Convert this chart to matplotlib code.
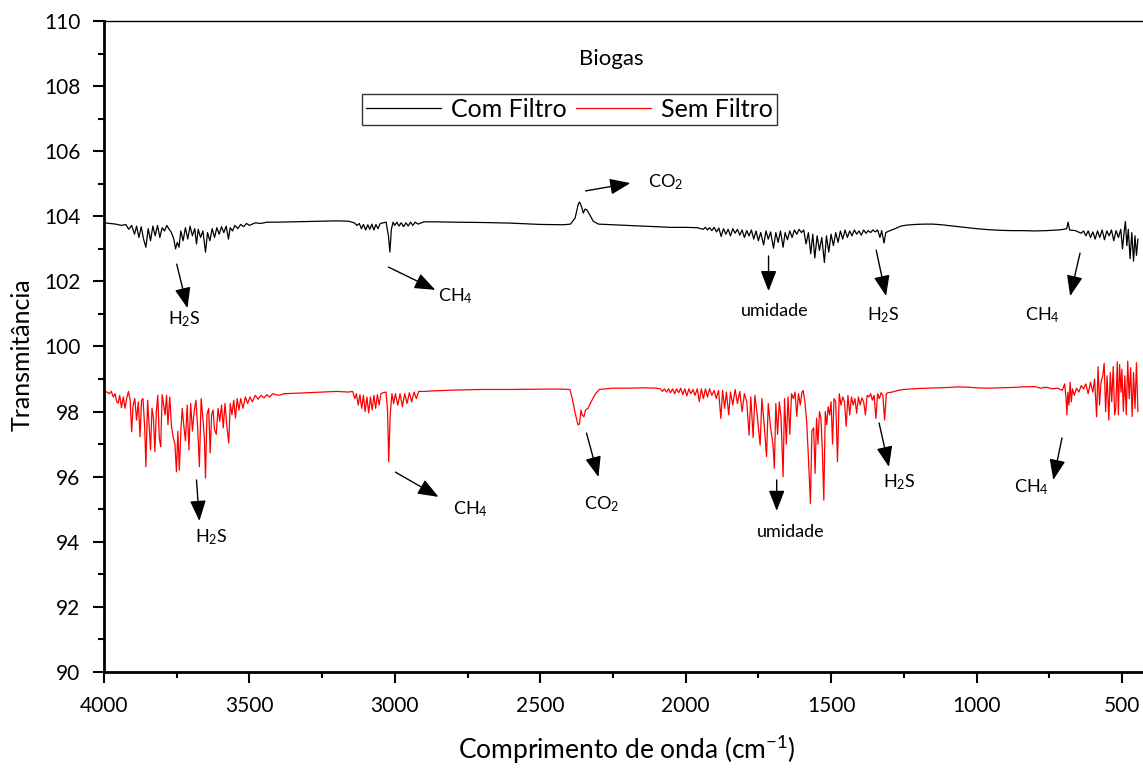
import matplotlib
matplotlib.use("Agg")
import matplotlib.pyplot as plt
from matplotlib import font_manager
from matplotlib.ticker import MultipleLocator

# ---- data (wavenumber cm-1, transmittance) ----
com_wn = [4000, 3980, 3960, 3940, 3925, 3915, 3905, 3895, 3888, 3880, 3872, 3864, 3856, 3848, 3840,
          3832, 3824, 3816, 3808, 3800, 3792, 3784, 3776, 3768, 3760, 3754, 3748, 3742, 3736, 3728,
          3720, 3712, 3704, 3696, 3688, 3682, 3676, 3668, 3660, 3651, 3644, 3636, 3628, 3620, 3612,
          3604, 3596, 3588, 3580, 3572, 3566, 3558, 3550, 3540, 3530, 3520, 3510, 3500, 3480, 3460,
          3440, 3400, 3350, 3300, 3250, 3200, 3160, 3140, 3130, 3122, 3115, 3108, 3100, 3093, 3086,
          3079, 3072, 3065, 3058, 3050, 3040, 3030, 3022, 3017, 3012, 3006, 3000, 2993, 2986, 2978,
          2970, 2962, 2954, 2946, 2938, 2930, 2920, 2900, 2860, 2800, 2700, 2600, 2500, 2420, 2396,
          2380, 2370, 2365, 2358, 2352, 2346, 2340, 2330, 2318, 2300, 2200, 2100, 2050, 2000, 1960,
          1940, 1932, 1925, 1918, 1910, 1902, 1894, 1886, 1878, 1870, 1862, 1854, 1846, 1838, 1830,
          1822, 1814, 1806, 1798, 1790, 1782, 1774, 1766, 1758, 1750, 1742, 1732, 1724, 1716, 1708,
          1698, 1690, 1682, 1674, 1665, 1658, 1650, 1642, 1634, 1626, 1618, 1610, 1602, 1594, 1586,
          1578, 1570, 1563, 1556, 1548, 1540, 1532, 1523, 1516, 1508, 1500, 1492, 1484, 1476, 1468,
          1460, 1452, 1444, 1436, 1428, 1420, 1412, 1404, 1396, 1388, 1380, 1372, 1364, 1356, 1348,
          1340, 1332, 1326, 1318, 1312, 1300, 1280, 1260, 1240, 1210, 1180, 1150, 1120, 1090, 1060,
          1030, 1000, 960, 920, 880, 840, 800, 760, 720, 700, 690, 685, 680, 660, 640,
          632, 624, 616, 608, 600, 592, 584, 576, 568, 560, 552, 544, 536, 528, 520,
          512, 504, 498, 492, 488, 483, 478, 472, 466, 460, 455, 450, 445]
com_t = [103.80, 103.78, 103.76, 103.72, 103.75, 103.60, 103.72, 103.45, 103.70, 103.35, 103.68, 103.30, 103.05, 103.62, 103.25,
         103.70, 103.40, 103.72, 103.35, 103.65, 103.55, 103.72, 103.60, 103.50, 103.30, 103.00, 103.20, 103.05, 103.55, 103.25,
         103.65, 103.30, 103.70, 103.40, 103.62, 103.15, 103.60, 103.35, 103.55, 102.90, 103.50, 103.25, 103.62, 103.35, 103.65,
         103.45, 103.68, 103.50, 103.70, 103.30, 103.65, 103.55, 103.72, 103.62, 103.75, 103.68, 103.78, 103.72, 103.80, 103.78,
         103.82, 103.82, 103.83, 103.84, 103.85, 103.86, 103.85, 103.80, 103.72, 103.78, 103.62, 103.75, 103.58, 103.74, 103.60,
         103.76, 103.58, 103.75, 103.62, 103.78, 103.80, 103.82, 103.40, 102.90, 103.60, 103.82, 103.72, 103.82, 103.70, 103.80,
         103.68, 103.80, 103.70, 103.82, 103.72, 103.82, 103.76, 103.83, 103.83, 103.82, 103.81, 103.79, 103.75, 103.74, 103.76,
         103.95, 104.35, 104.44, 104.30, 104.10, 104.22, 104.20, 104.05, 103.85, 103.76, 103.72, 103.68, 103.66, 103.66, 103.65,
         103.60, 103.66, 103.58, 103.65, 103.56, 103.66, 103.52, 103.64, 103.38, 103.62, 103.45, 103.60, 103.40, 103.62, 103.48,
         103.60, 103.42, 103.58, 103.35, 103.56, 103.40, 103.58, 103.30, 103.55, 103.25, 103.50, 103.12, 103.55, 103.30, 103.52,
         103.02, 103.50, 103.20, 103.55, 103.05, 103.50, 103.28, 103.55, 103.35, 103.58, 103.45, 103.60, 103.50, 103.58, 103.15,
         103.50, 102.85, 103.45, 102.72, 103.40, 102.95, 103.35, 102.58, 103.40, 102.90, 103.45, 103.10, 103.50, 103.20, 103.55,
         103.30, 103.58, 103.35, 103.55, 103.40, 103.58, 103.45, 103.55, 103.42, 103.58, 103.48, 103.56, 103.50, 103.58, 103.52,
         103.58, 103.35, 103.56, 103.18, 103.50, 103.55, 103.62, 103.70, 103.73, 103.75, 103.76, 103.76, 103.74, 103.71, 103.68,
         103.65, 103.62, 103.59, 103.57, 103.56, 103.56, 103.55, 103.56, 103.58, 103.60, 103.62, 103.82, 103.58, 103.56, 103.48,
         103.55, 103.40, 103.55, 103.35, 103.52, 103.30, 103.55, 103.35, 103.58, 103.28, 103.55, 103.40, 103.58, 103.25, 103.56,
         103.35, 103.60, 103.00, 103.55, 103.84, 103.10, 103.60, 102.70, 103.50, 102.62, 103.40, 102.80, 103.30]

sem_wn = [4000, 3998, 3990, 3982, 3975, 3968, 3962, 3956, 3951, 3946, 3940, 3934, 3928, 3922, 3916,
          3910, 3905, 3900, 3894, 3888, 3882, 3876, 3871, 3866, 3860, 3856, 3850, 3845, 3840, 3835,
          3830, 3825, 3820, 3815, 3810, 3805, 3800, 3795, 3790, 3785, 3780, 3774, 3768, 3762, 3756,
          3751, 3746, 3741, 3736, 3731, 3726, 3720, 3714, 3708, 3702, 3696, 3690, 3684, 3678, 3672,
          3666, 3660, 3655, 3651, 3646, 3640, 3635, 3630, 3625, 3620, 3614, 3608, 3602, 3596, 3590,
          3584, 3578, 3571, 3566, 3560, 3554, 3548, 3542, 3536, 3530, 3522, 3514, 3506, 3498, 3490,
          3480, 3470, 3460, 3450, 3440, 3430, 3420, 3400, 3380, 3350, 3300, 3250, 3200, 3160, 3145,
          3138, 3132, 3126, 3120, 3114, 3108, 3102, 3096, 3090, 3084, 3078, 3072, 3066, 3060, 3054,
          3048, 3040, 3030, 3025, 3021, 3016, 3010, 3004, 2998, 2990, 2982, 2974, 2966, 2958, 2950,
          2942, 2934, 2926, 2918, 2900, 2860, 2830, 2800, 2700, 2600, 2500, 2420, 2398, 2390, 2380,
          2370, 2365, 2360, 2356, 2350, 2344, 2336, 2325, 2310, 2297, 2250, 2200, 2150, 2100, 2087,
          2080, 2073, 2066, 2059, 2052, 2045, 2038, 2031, 2024, 2017, 2010, 2003, 1996, 1989, 1982,
          1975, 1968, 1960, 1953, 1946, 1939, 1932, 1925, 1918, 1910, 1902, 1895, 1887, 1879, 1873,
          1866, 1860, 1852, 1846, 1838, 1830, 1822, 1814, 1806, 1798, 1790, 1782, 1776, 1768, 1762,
          1754, 1744, 1738, 1730, 1722, 1716, 1708, 1700, 1695, 1690, 1684, 1678, 1672, 1665, 1660,
          1654, 1648, 1642, 1636, 1630, 1624, 1618, 1612, 1606, 1600, 1596, 1590, 1584, 1578, 1571,
          1566, 1560, 1555, 1550, 1545, 1540, 1535, 1530, 1525, 1520, 1515, 1510, 1505, 1500, 1495,
          1490, 1484, 1478, 1472, 1466, 1460, 1454, 1448, 1442, 1436, 1430, 1424, 1418, 1412, 1406,
          1400, 1394, 1388, 1382, 1376, 1370, 1364, 1358, 1352, 1346, 1340, 1334, 1328, 1322, 1316,
          1310, 1304, 1290, 1270, 1250, 1220, 1200, 1170, 1140, 1100, 1061, 1030, 1000, 960, 920,
          880, 840, 800, 780, 760, 740, 720, 705, 697, 692, 689, 686, 682, 678, 674,
          670, 664, 656, 648, 640, 632, 624, 616, 608, 600, 594, 587, 582, 577, 572,
          566, 561, 556, 551, 545, 540, 535, 530, 525, 521, 516, 512, 508, 503, 500,
          495, 490, 485, 480, 475, 470, 465, 460, 455, 450, 445]
sem_t = [0.0, 98.62, 98.60, 98.55, 98.62, 98.45, 98.55, 98.30, 98.26, 98.50, 98.12, 98.45, 98.10, 98.40, 98.62,
         98.35, 97.38, 98.20, 98.40, 97.74, 98.30, 97.23, 98.35, 98.40, 97.50, 96.31, 98.35, 97.60, 96.82, 98.10,
         97.80, 96.77, 98.00, 98.50, 97.20, 96.92, 98.52, 98.20, 97.90, 98.50, 97.60, 98.45, 97.55, 97.20, 97.00,
         96.15, 97.40, 96.20, 97.35, 98.10, 97.60, 97.10, 98.20, 96.82, 98.25, 97.40, 98.00, 98.35, 97.50, 96.31,
         98.40, 97.80, 97.20, 95.96, 97.90, 98.10, 96.73, 97.90, 98.05, 97.45, 97.30, 98.10, 97.70, 98.20, 97.50,
         98.25, 97.60, 97.03, 98.25, 97.90, 98.35, 97.80, 98.40, 98.05, 98.40, 98.10, 98.45, 98.25, 98.45, 98.30,
         98.50, 98.38, 98.50, 98.42, 98.52, 98.45, 98.55, 98.50, 98.55, 98.56, 98.58, 98.60, 98.62, 98.60, 98.62,
         98.40, 98.55, 98.20, 98.52, 98.10, 98.50, 98.00, 98.45, 97.96, 98.45, 98.05, 98.50, 98.10, 98.52, 98.20,
         98.55, 98.58, 98.60, 98.00, 96.46, 97.90, 98.55, 98.25, 98.55, 98.20, 98.55, 98.15, 98.55, 98.25, 98.58,
         98.30, 98.60, 98.40, 98.62, 98.62, 98.64, 98.65, 98.66, 98.68, 98.68, 98.69, 98.69, 98.68, 98.40, 97.95,
         97.59, 97.62, 98.05, 97.90, 97.84, 98.05, 98.10, 98.30, 98.55, 98.68, 98.72, 98.72, 98.73, 98.72, 98.70,
         98.62, 98.70, 98.60, 98.70, 98.58, 98.70, 98.55, 98.70, 98.58, 98.72, 98.52, 98.70, 98.48, 98.70, 98.55,
         98.68, 98.50, 98.70, 98.30, 98.70, 98.40, 98.70, 98.45, 98.70, 98.50, 98.65, 98.40, 98.65, 97.79, 98.65,
         98.10, 98.60, 97.90, 98.60, 98.20, 98.68, 98.25, 98.62, 98.00, 98.55, 98.30, 97.28, 98.45, 97.20, 98.50,
         97.90, 96.97, 98.40, 97.60, 96.62, 98.25, 97.50, 97.00, 96.26, 98.25, 97.30, 98.30, 97.80, 96.00, 98.40,
         97.00, 98.45, 97.30, 98.55, 98.40, 98.60, 97.85, 98.55, 98.20, 98.60, 98.65, 98.30, 97.70, 96.60, 95.18,
         97.40, 97.50, 96.10, 97.80, 97.00, 98.00, 97.80, 96.80, 95.28, 98.00, 97.60, 98.15, 97.90, 98.30, 97.00,
         98.40, 98.30, 96.46, 98.55, 98.20, 98.45, 98.30, 97.55, 98.50, 97.90, 98.45, 98.20, 98.40, 97.95, 98.45,
         98.20, 98.42, 98.30, 97.90, 98.50, 98.45, 98.55, 98.35, 98.50, 97.79, 98.55, 98.40, 98.58, 98.50, 97.74,
         98.55, 98.58, 98.60, 98.65, 98.68, 98.70, 98.71, 98.72, 98.73, 98.74, 98.76, 98.75, 98.73, 98.72, 98.73,
         98.74, 98.76, 98.77, 98.72, 98.75, 98.70, 98.72, 98.65, 98.85, 98.40, 97.90, 98.60, 98.20, 98.90, 98.30,
         98.70, 98.50, 98.72, 98.60, 98.80, 98.70, 98.85, 98.55, 98.90, 98.60, 99.00, 97.84, 99.38, 98.20, 98.90,
         99.10, 99.48, 98.00, 99.10, 97.74, 99.20, 98.30, 99.38, 97.90, 98.10, 99.53, 97.90, 99.45, 98.60, 99.30,
         98.00, 99.10, 97.90, 99.55, 98.40, 99.35, 97.85, 99.20, 98.10, 99.50, 98.00]

series_labels = ["Com Filtro", "Sem Filtro"]
series_colors = ["black", "red"]

# annotations: label, text position, arrow tail, arrow head
notes = [
    (r"H$_2$S", (3723, 100.85), (3750, 102.53), (3713, 101.18)),
    (r"CH$_4$", (2790, 101.55), (3022, 102.44), (2861, 101.74)),
    (r"CO$_2$", (2070, 105.05), (2344, 104.78), (2190, 105.02)),
    ("umidade", (1694, 101.09), (1715, 102.78), (1715, 101.70)),
    (r"H$_2$S", (1321, 100.97), (1345, 102.96), (1311, 101.55)),
    (r"CH$_4$", (774, 100.97), (644, 102.87), (678, 101.55)),
    (r"H$_2$S", (3631, 94.15), (3682, 95.90), (3672, 94.64)),
    (r"CH$_4$", (2741, 95.0), (2998, 96.14), (2850, 95.38)),
    (r"CO$_2$", (2290, 95.15), (2341, 97.34), (2300, 95.99)),
    ("umidade", (1639, 94.30), (1687, 95.90), (1687, 94.95)),
    (r"H$_2$S", (1267, 95.83), (1335, 97.65), (1301, 96.30)),
    (r"CH$_4$", (811, 95.67), (706, 97.19), (736, 95.90)),
]

names = {f.name for f in font_manager.fontManager.ttflist}
main_font = "Lato" if "Lato" in names else "DejaVu Sans"
plt.rcParams["font.family"] = [main_font, "DejaVu Sans"]
plt.rcParams["mathtext.fontset"] = "custom"
plt.rcParams["mathtext.rm"] = main_font
plt.rcParams["mathtext.it"] = main_font

fig = plt.figure(figsize=(11.43, 7.69), dpi=100)
# axes run from 4000 to 400; the right end falls just outside the picture (cropped, as in the source)
ax = fig.add_axes([104 / 1143, 97 / 769, 1047 / 1143, 651 / 769])

ax.plot(com_wn, com_t, color=series_colors[0], lw=0.9, label=series_labels[0])
ax.plot(sem_wn, sem_t, color=series_colors[1], lw=0.9, label=series_labels[1])

ax.set_xlim(4000, 400)
ax.set_ylim(90, 110)
ax.xaxis.set_major_locator(MultipleLocator(500))
ax.xaxis.set_minor_locator(MultipleLocator(250))
ax.yaxis.set_major_locator(MultipleLocator(2))
ax.yaxis.set_minor_locator(MultipleLocator(1))
ax.tick_params(which="major", direction="out", length=8, width=1.5, pad=9, labelsize=15)
ax.tick_params(which="minor", direction="out", length=4.5, width=1.5)
for s in ["left", "bottom"]:
    ax.spines[s].set_linewidth(2)
ax.spines["top"].set_linewidth(1)
ax.spines["right"].set_visible(False)

for text, tpos, tail, head in notes:
    ax.annotate("", xy=head, xytext=tail,
                arrowprops=dict(arrowstyle="-|>,head_length=0.9,head_width=0.35",
                                color="black", lw=1, shrinkA=0, shrinkB=0, mutation_scale=14))
    ax.text(tpos[0], tpos[1], text, ha="center", va="center", fontsize=13)

ax.text(0.485, 0.942, "Biogas", transform=ax.transAxes, ha="center", va="center", fontsize=16)
leg = ax.legend(loc="center", bbox_to_anchor=(0.4445, 0.864), ncol=2, fontsize=18,
                frameon=True, fancybox=False, edgecolor="black", handlelength=3.0,
                columnspacing=0.4, handletextpad=0.4, borderpad=0.15, borderaxespad=0)
leg.get_frame().set_linewidth(1)

fig.text(22 / 1143, 1 - 355 / 769, "Transmitância", rotation=90, ha="center", va="center", fontsize=18)
fig.text(627 / 1143, 1 - 750 / 769, "Comprimento de onda (cm$^{-1}$)", ha="center", va="center", fontsize=19)

fig.savefig("out.png", dpi=100)
